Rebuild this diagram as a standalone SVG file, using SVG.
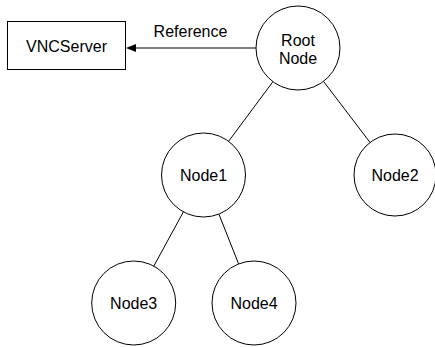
<svg xmlns="http://www.w3.org/2000/svg" width="435" height="347" viewBox="0 0 435 347">
<style>
.n{fill:#fff;stroke:#000;stroke-width:1}
.t{font-family:"Liberation Sans",Arial,sans-serif;font-size:16px;fill:#000;text-anchor:middle}
.e{stroke:#000;stroke-width:1;fill:none}
</style>
<rect width="435" height="347" fill="#fff"/>
<g id="connectors">
<line class="e" x1="256" y1="48" x2="136" y2="48"/>
<path d="M126,48 L136,44 L136,52 z" fill="#000"/>
<text class="t" x="190.5" y="37">Reference</text>
<line class="e" x1="272.9" y1="81.7" x2="228.6" y2="141.3"/>
<line class="e" x1="323.5" y1="81.4" x2="370" y2="142.4"/>
<line class="e" x1="183.4" y1="211.9" x2="153.8" y2="266.1"/>
<line class="e" x1="218.9" y1="214.1" x2="238.6" y2="263.9"/>
</g>
<g id="vncserver">
<rect class="n" x="7.5" y="21.5" width="118" height="48"/>
<text class="t" x="66.5" y="51.5">VNCServer</text>
</g>
<g id="root">
<circle class="n" cx="298" cy="48" r="42"/>
<text class="t" x="298" y="45.5">Root</text>
<text class="t" x="298" y="63.5">Node</text>
</g>
<g id="node1">
<circle class="n" cx="203.5" cy="175" r="42"/>
<text class="t" x="203.5" y="181">Node1</text>
</g>
<g id="node2">
<circle class="n" cx="395" cy="175" r="41"/>
<text class="t" x="395" y="181">Node2</text>
</g>
<g id="node3">
<circle class="n" cx="133.7" cy="303" r="42"/>
<text class="t" x="133.7" y="309">Node3</text>
</g>
<g id="node4">
<circle class="n" cx="254" cy="303" r="42"/>
<text class="t" x="254" y="309">Node4</text>
</g>
</svg>
